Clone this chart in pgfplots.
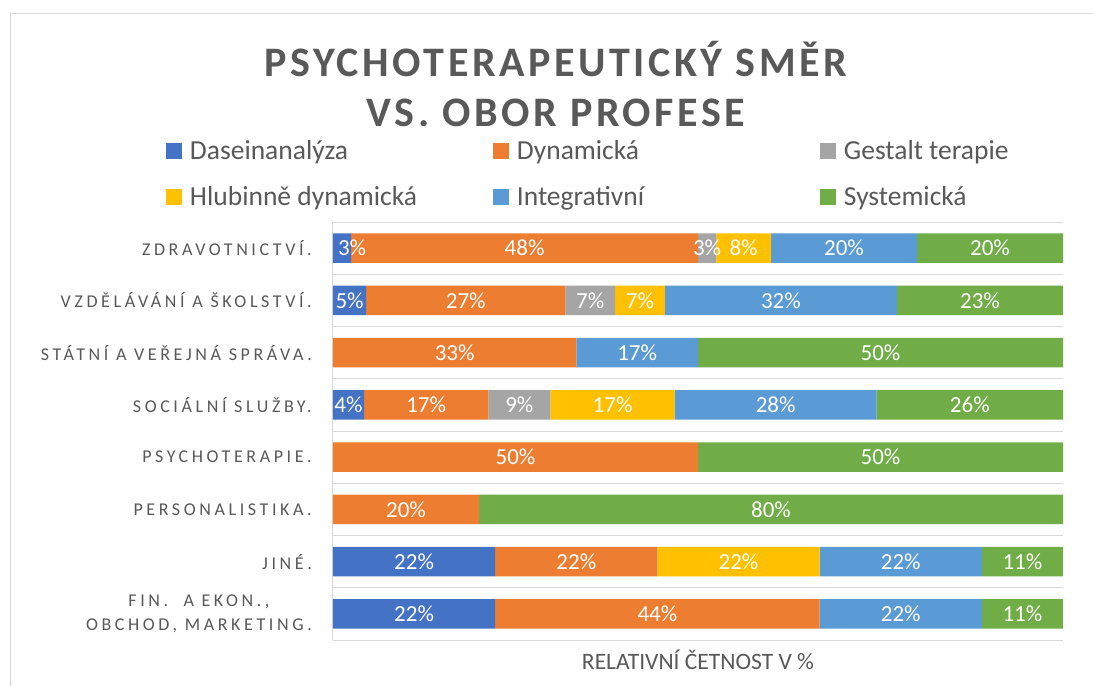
\documentclass[border=0pt]{standalone}
\usepackage{fontspec}
\setmainfont{Carlito}
\newfontfamily\titlefont[LetterSpace=8.5]{Carlito}
\newfontfamily\catfont[LetterSpace=20]{Carlito}
\usepackage{pgfplots}
\pgfplotsset{compat=1.18}
\definecolor{cDas}{HTML}{4472C4}
\definecolor{cDyn}{HTML}{ED7D31}
\definecolor{cGes}{HTML}{A5A5A5}
\definecolor{cHlu}{HTML}{FFC000}
\definecolor{cInt}{HTML}{5B9BD5}
\definecolor{cSys}{HTML}{70AD47}
\definecolor{cTxt}{HTML}{595959}
\definecolor{cGrid}{HTML}{D9D9D9}
\newcommand{\lent}[1]{\raisebox{7pt}{\makebox[295pt][l]{#1}}}
\begin{document}
\begin{tikzpicture}[x=1pt,y=1pt]
\useasboundingbox (0,0) rectangle (1093,686);
\fill[white] (0,0) rectangle (1093,686);
\draw[cGrid, line width=1pt] (10.5,0) -- (10.5,672) -- (1093,672);
\node[anchor=base, text=cTxt, font=\titlefont\bfseries\fontsize{42}{50}\selectfont] at (556,609) {PSYCHOTERAPEUTICKÝ SMĚR};
\node[anchor=base, text=cTxt, font=\titlefont\bfseries\fontsize{42}{50}\selectfont] at (556,559) {VS. OBOR PROFESE};
\begin{axis}[
  at={(333pt,46pt)}, anchor=south west,
  scale only axis, width=730pt, height=418pt,
  xbar stacked, bar width=29.5pt,
  xmin=0, xmax=100, ymin=-0.5, ymax=7.5,
  enlargelimits=false,
  axis line style={draw=none},
  xtick=\empty,
  extra x ticks={0}, extra x tick labels={},
  extra x tick style={grid=major, major grid style={cGrid, line width=1pt}, major tick length=0pt},
  ytick={0,...,7},
  yticklabels={{FIN.~ A EKON.,\\OBCHOD, MARKETING.},{JINÉ.},{PERSONALISTIKA.},{PSYCHOTERAPIE.},{SOCIÁLNÍ SLUŽBY.},{STÁTNÍ A VEŘEJNÁ SPRÁVA.},{VZDĚLÁVÁNÍ A ŠKOLSTVÍ.},{ZDRAVOTNICTVÍ.}},
  yticklabel style={font=\catfont\fontsize{18}{24}\selectfont, text=cTxt, align=center, inner sep=0pt, xshift=-21pt},
  major tick length=0pt,
  minor ytick={-0.5,0.5,...,7.5},
  yminorgrids,
  minor grid style={cGrid, line width=1pt},
  minor tick length=0pt,
  xlabel={RELATIVNÍ ČETNOST V \%},
  xlabel style={at={(axis description cs:0.5,0)}, anchor=base, yshift=-29pt, font=\fontsize{23.5}{28}\selectfont, text=cTxt},
  point meta=explicit symbolic,
  nodes near coords={\ifnum\pgfplotspointmeta=0\relax\else\ifnum\pgfplotspointmeta<0\relax\hspace*{20pt}\number-\pgfplotspointmeta\%\else\pgfplotspointmeta\%\fi\fi},
  every node near coord/.append style={anchor=center, text=white, font=\fontsize{23}{26}\selectfont, inner sep=0pt},
  legend columns=3,
  legend style={draw=none, fill=none, inner sep=0pt, outer sep=0pt, column sep=8pt, row sep=22pt,
    at={(rel axis cs:-0.2288,1.19)}, anchor=north west,
    nodes={inner sep=0pt, outer sep=0pt, text height=16pt, text depth=0pt},
    font=\fontsize{27.5}{30}\selectfont, text=cTxt},
  legend cell align=left,
  legend image code/.code={\fill[#1, draw=none] (0pt,0pt) rectangle (16pt,16pt);},
]
\addplot[fill=cDas, draw=none] table[x=v, y=c, meta=l] {
c v l
7 2.5 -3
6 4.545 5
5 0 0
4 4.255 4
3 0 0
2 0 0
1 22.222 22
0 22.222 22
};
\addlegendentry{\lent{Daseinanalýza}}
\addplot[fill=cDyn, draw=none] table[x=v, y=c, meta=l] {
c v l
7 47.5 48
6 27.273 27
5 33.333 33
4 17.021 17
3 50 50
2 20 20
1 22.222 22
0 44.444 44
};
\addlegendentry{\lent{Dynamická}}
\addplot[fill=cGes, draw=none] table[x=v, y=c, meta=l] {
c v l
7 2.5 3
6 6.818 7
5 0 0
4 8.511 9
3 0 0
2 0 0
1 0 0
0 0 0
};
\addlegendentry{\lent{Gestalt terapie}}
\addplot[fill=cHlu, draw=none] table[x=v, y=c, meta=l] {
c v l
7 7.5 8
6 6.818 7
5 0 0
4 17.021 17
3 0 0
2 0 0
1 22.222 22
0 0 0
};
\addlegendentry{\lent{Hlubinně dynamická}}
\addplot[fill=cInt, draw=none] table[x=v, y=c, meta=l] {
c v l
7 20 20
6 31.818 32
5 16.667 17
4 27.660 28
3 0 0
2 0 0
1 22.222 22
0 22.222 22
};
\addlegendentry{\lent{Integrativní}}
\addplot[fill=cSys, draw=none] table[x=v, y=c, meta=l] {
c v l
7 20 20
6 22.727 23
5 50 50
4 25.532 26
3 50 50
2 80 80
1 11.111 11
0 11.111 11
};
\addlegendentry{\lent{Systemická}}
\end{axis}
\end{tikzpicture}
\end{document}
